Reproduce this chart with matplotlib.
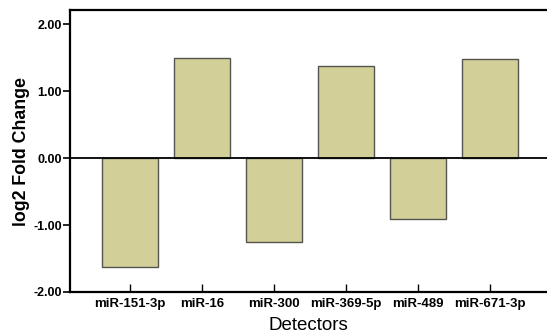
import matplotlib
matplotlib.use('Agg')
import matplotlib.pyplot as plt

# данные
detectors = ['miR-151-3p', 'miR-16', 'miR-300', 'miR-369-5p', 'miR-489', 'miR-671-3p']
fold_change = [-1.63, 1.49, -1.25, 1.38, -0.91, 1.48]
y_ticks = [-2.0, -1.0, 0.0, 1.0, 2.0]

plt.rcParams['font.family'] = ['Liberation Sans', 'DejaVu Sans']

fig = plt.figure(figsize=(5.47, 3.35), dpi=100)
ax = fig.add_axes([70 / 547, 1 - 292 / 335, 477 / 547, 282 / 335])

x = range(len(detectors))
ax.bar(x, fold_change, width=0.77, color='#D3CF98', edgecolor='#555550', linewidth=1.0, zorder=2)
ax.axhline(0, color='black', linewidth=1.3, zorder=3)

ax.set_xlim(-0.83, 5.79)
ax.set_ylim(-2.0, 2.21)
ax.set_yticks(y_ticks)
ax.set_yticklabels(['{:.2f}'.format(v) for v in y_ticks], fontsize=9, fontweight='bold')
ax.set_xticks(list(x))
ax.set_xticklabels(detectors, fontsize=9.5, fontweight='bold')

ax.tick_params(axis='y', direction='out', length=5, width=1.2, pad=1)
ax.tick_params(axis='x', direction='in', length=6, width=1.0, pad=4)

for side in ['left', 'bottom', 'top']:
    ax.spines[side].set_linewidth(1.6)
ax.spines['right'].set_visible(False)

ax.set_ylabel('log2 Fold Change', fontsize=12.8, fontweight='bold', labelpad=2)
ax.set_xlabel('Detectors', fontsize=13.5, labelpad=5)

plt.savefig('out.png', dpi=100)
